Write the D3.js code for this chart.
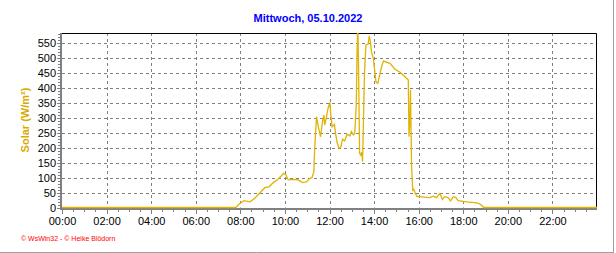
<!DOCTYPE html>
<html>
<head>
<meta charset="utf-8">
<script src="https://cdn.jsdelivr.net/npm/d3@7"></script>
<style>
  body { margin: 0; background: #fff; }
  svg { display: block; font-family: Arial, "Liberation Sans", sans-serif; }
</style>
</head>
<body>
<div id="chart"></div>
<script>
// chart texts
const title = "Mittwoch, 05.10.2022";
const yLabel = "Solar (W/m²)";
const credit = "© WsWin32  -  © Heike Blödorn";

// readings, time of day and solar radiation in W/m²
const times = ["00:00", "07:48", "07:57", "08:10", "08:26", "08:39", "08:53", "09:06", "09:17", "09:29",
  "09:42", "09:57", "10:02", "10:09", "10:22", "10:36", "10:47", "10:58", "11:07", "11:13",
  "11:18", "11:19", "11:21", "11:25", "11:30", "11:36", "11:41", "11:45", "11:47", "11:52",
  "11:56", "12:01", "12:04", "12:07", "12:13", "12:17", "12:21", "12:26", "12:31", "12:35",
  "12:41", "12:47", "12:55", "12:59", "13:04", "13:08", "13:12", "13:14", "13:16", "13:18",
  "13:21", "13:24", "13:27", "13:29", "13:34", "13:38", "13:44", "13:47", "13:50", "13:53",
  "13:58", "14:02", "14:05", "14:10", "14:14", "14:18", "14:23", "14:26", "14:34", "14:43",
  "14:56", "15:10", "15:23", "15:32", "15:34", "15:36", "15:38", "15:41", "15:44", "15:47",
  "15:51", "15:56", "16:01", "16:30", "16:39", "16:48", "16:57", "17:04", "17:10", "17:19",
  "17:26", "17:33", "17:40", "17:46", "18:09", "18:31", "18:41", "18:49", "18:55", "24:00"];
const solar = [0, 0, 12, 23, 19, 31, 49, 66, 69, 83,
  95, 114, 110, 92, 94, 92, 83, 85, 97, 100,
  119, 164, 214, 303, 269, 236, 286, 308, 275, 303,
  331, 350, 303, 269, 277, 242, 214, 197, 203, 228,
  222, 244, 239, 253, 242, 247, 342, 503, 620, 480,
  181, 175, 185, 153, 442, 542, 545, 572, 553, 519,
  497, 453, 419, 414, 436, 458, 481, 489, 484, 481,
  461, 451, 436, 425, 236, 281, 392, 136, 58, 61,
  47, 36, 36, 33, 38, 33, 47, 27, 36, 33,
  22, 36, 33, 23, 19, 16, 14, 8, 0, 0];

// axis ticks
const yTicks = d3.range(0, 551, 50);
const xTicks = d3.range(0, 23, 2);
const xMinor = d3.range(0, 24, 0.5);
const yMinor = d3.range(0, 581, 10);

const width = 616, height = 253;
const plotLeft = 62, plotRight = 597, plotTop = 33, plotBottom = 207.5;
const lineColor = "#e0b400";
const gridColor = "#808080";

const toHours = s => +s.slice(0, 2) + +s.slice(3) / 60;
const data = times.map((t, i) => ({ h: toHours(t), v: solar[i] }));

const x = d3.scaleLinear().domain([0, 24]).range([plotLeft, plotRight]);
const y = d3.scaleLinear().domain([0, 582]).range([plotBottom, plotTop]);
const px = v => Math.round(v) + 0.5;

const svg = d3.select("#chart").append("svg")
  .attr("width", width)
  .attr("height", height);

// outer frame
svg.append("line").attr("x1", 613.5).attr("x2", 613.5).attr("y1", 0).attr("y2", 253)
  .attr("stroke", "#a0a0a0").attr("stroke-width", 1);
svg.append("line").attr("x1", 0).attr("x2", 614).attr("y1", 252.5).attr("y2", 252.5)
  .attr("stroke", "#a0a0a0").attr("stroke-width", 1);

// title
svg.append("text")
  .attr("x", 308).attr("y", 22)
  .attr("text-anchor", "middle")
  .attr("font-size", 11).attr("font-weight", "bold")
  .attr("fill", "#0000ff")
  .text(title);

// grid
const grid = svg.append("g").attr("stroke", gridColor).attr("stroke-dasharray", "3,3");
grid.selectAll("line.h").data(yTicks.filter(d => d > 0)).enter().append("line")
  .attr("x1", plotLeft).attr("x2", plotRight)
  .attr("y1", d => px(y(d))).attr("y2", d => px(y(d)));
grid.selectAll("line.v").data(xTicks.filter(d => d > 0)).enter().append("line")
  .attr("y1", plotTop).attr("y2", plotBottom)
  .attr("x1", d => px(x(d))).attr("x2", d => px(x(d)));

// top and right border
svg.append("path")
  .attr("d", `M${plotLeft},${plotTop + 0.5}H${plotRight - 0.5}V${plotBottom + 1}`)
  .attr("fill", "none").attr("stroke", "#000").attr("stroke-width", 1);

// minor ticks
svg.selectAll("line.xm").data(xMinor).enter().append("line")
  .attr("x1", d => px(x(d))).attr("x2", d => px(x(d)))
  .attr("y1", 209).attr("y2", d => d % 2 === 0 ? 214 : 212)
  .attr("stroke", gridColor);
svg.selectAll("line.ym").data(yMinor).enter().append("line")
  .attr("y1", d => px(y(d))).attr("y2", d => px(y(d)))
  .attr("x1", d => d % 50 === 0 ? 57 : 58).attr("x2", 61)
  .attr("stroke", gridColor);

// axis lines (thick grey)
svg.append("rect").attr("x", 60).attr("y", plotTop).attr("width", 2).attr("height", plotBottom - plotTop + 2)
  .attr("fill", gridColor);
svg.append("rect").attr("x", 60).attr("y", 208).attr("width", plotRight - 60).attr("height", 2)
  .attr("fill", gridColor);

// y tick labels
svg.append("g")
  .attr("transform", `translate(56,0)`)
  .call(d3.axisLeft(y).tickValues(yTicks).tickSize(0).tickPadding(0))
  .call(g => g.select(".domain").remove())
  .call(g => g.selectAll("text")
    .attr("font-family", "Arial, 'Liberation Sans', sans-serif")
    .attr("font-size", 11).attr("fill", "#000").attr("dy", "0.36em"));

// x tick labels
svg.append("g")
  .attr("transform", `translate(0,217)`)
  .call(d3.axisBottom(x).tickValues(xTicks).tickSize(0).tickPadding(0)
    .tickFormat(d => d3.format("02d")(d) + ":00"))
  .call(g => g.select(".domain").remove())
  .call(g => g.selectAll("text")
    .attr("font-family", "Arial, 'Liberation Sans', sans-serif")
    .attr("font-size", 11).attr("fill", "#000"));

// y axis title
svg.append("text")
  .attr("transform", "translate(29,120) rotate(-90)")
  .attr("text-anchor", "middle")
  .attr("font-size", 11).attr("font-weight", "bold")
  .attr("fill", "#d8aa00")
  .text(yLabel);

// credit
svg.append("text")
  .attr("x", 21).attr("y", 240.5)
  .attr("font-size", 7)
  .attr("fill", "#ff0000")
  .text(credit);

// data line
svg.append("clipPath").attr("id", "plot-clip")
  .append("rect").attr("x", plotLeft).attr("y", plotTop).attr("width", plotRight - plotLeft).attr("height", plotBottom - plotTop + 2);

svg.append("path")
  .datum(data)
  .attr("clip-path", "url(#plot-clip)")
  .attr("fill", "none")
  .attr("stroke", lineColor)
  .attr("stroke-width", 1.3)
  .attr("d", d3.line().x(d => x(d.h)).y(d => y(d.v)));
</script>
</body>
</html>
